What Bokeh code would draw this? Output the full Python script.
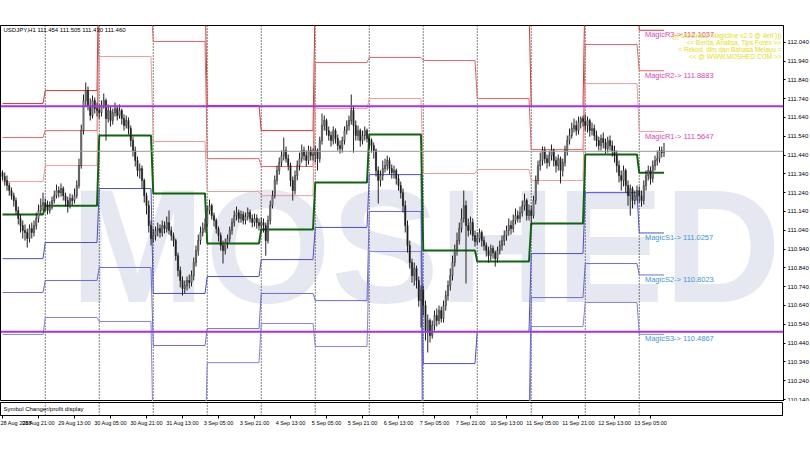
from bokeh.plotting import figure
from bokeh.models import ColumnDataSource, FixedTicker, PrintfTickFormatter, Label, Range1d, Span, Grid
from bokeh.layouts import column
from bokeh.embed import file_html
from bokeh.resources import INLINE

# ---------------- data ----------------
title_text = "USDJPY,H1  111.454 111.505 111.430 111.460"
first_open = 111.347

close = [
    111.326, 111.305, 111.278, 111.251, 111.224, 111.198, 111.145, 111.103, 111.065, 111.039, 111.028, 110.996, 111.049, 111.028, 111.065, 111.103, 111.145, 111.171, 111.187,
    111.171, 111.145, 111.161, 111.198, 111.224, 111.251, 111.240, 111.262, 111.224, 111.198, 111.171, 111.209, 111.198, 111.224, 111.278, 111.384, 111.570, 111.730, 111.783, 111.703, 111.650, 111.730, 111.687, 111.677,
    111.666, 111.703, 111.730, 111.634, 111.677, 111.624, 111.666, 111.687, 111.650, 111.677, 111.634, 111.597, 111.624, 111.581, 111.517, 111.464, 111.411, 111.358, 111.368, 111.305, 111.224, 111.171, 111.065, 110.996,
    111.012, 111.039, 111.049, 111.028, 111.065, 111.049, 111.081, 111.039, 111.012, 110.985, 110.905, 110.826, 110.773, 110.730, 110.746, 110.773, 110.762, 110.799, 110.868, 110.932, 110.985, 111.028, 111.049, 111.071,
    111.145, 111.171, 111.118, 111.092, 111.049, 111.012, 110.959, 110.932, 110.975, 110.996, 111.039, 111.081, 111.118, 111.134, 111.103, 111.124, 111.092, 111.113, 111.134, 111.103, 111.081, 111.103, 111.081, 111.065,
    111.081, 111.065, 110.985, 111.092, 111.171, 111.224, 111.305, 111.358, 111.400, 111.437, 111.464, 111.421, 111.384, 111.305, 111.251, 111.331, 111.384, 111.421, 111.464, 111.437, 111.411, 111.464, 111.437, 111.443,
    111.464, 111.421, 111.517, 111.597, 111.624, 111.570, 111.544, 111.517, 111.570, 111.528, 111.490, 111.475, 111.517, 111.570, 111.597, 111.624, 111.677, 111.597, 111.544, 111.570, 111.517, 111.544, 111.570, 111.528,
    111.517, 111.490, 111.464, 111.358, 111.305, 111.331, 111.368, 111.384, 111.411, 111.368, 111.347, 111.358, 111.315, 111.278, 111.240, 111.171, 111.065, 110.959, 110.868, 110.799, 110.837, 110.773, 110.666, 110.719,
    110.640, 110.507, 110.560, 110.480, 110.534, 110.587, 110.560, 110.613, 110.571, 110.640, 110.693, 110.746, 110.799, 110.868, 110.932, 110.985, 111.049, 111.103, 111.171, 111.065, 111.039, 111.081, 111.012, 110.980,
    110.996, 111.028, 110.985, 110.959, 110.932, 110.905, 110.943, 110.921, 110.889, 110.932, 110.959, 110.985, 111.012, 111.039, 111.065, 111.049, 111.092, 111.118, 111.103, 111.134, 111.171, 111.198, 111.118, 111.145,
    111.118, 111.198, 111.305, 111.384, 111.411, 111.464, 111.421, 111.400, 111.437, 111.464, 111.411, 111.384, 111.421, 111.358, 111.400, 111.464, 111.517, 111.544, 111.581, 111.597, 111.570, 111.613, 111.634, 111.618,
    111.597, 111.624, 111.570, 111.581, 111.544, 111.517, 111.490, 111.528, 111.507, 111.475, 111.517, 111.490, 111.464, 111.437, 111.384, 111.331, 111.305, 111.358, 111.278, 111.224, 111.262, 111.198, 111.224, 111.251,
    111.224, 111.198, 111.278, 111.331, 111.358, 111.315, 111.384, 111.411, 111.421, 111.464, 111.454, 111.460,
]

high = [
    111.358, 111.347, 111.331, 111.294, 111.267, 111.240, 111.214, 111.166, 111.124, 111.092, 111.071, 111.049, 111.071, 111.081, 111.092, 111.134, 111.177, 111.209, 111.240,
    111.209, 111.198, 111.193, 111.219, 111.251, 111.283, 111.273, 111.289, 111.273, 111.240, 111.219, 111.235, 111.230, 111.262, 111.305, 111.421, 111.602, 111.762, 111.826, 111.804, 111.741, 111.757, 111.746, 111.719,
    111.709, 111.730, 111.767, 111.741, 111.709, 111.698, 111.687, 111.719, 111.703, 111.709, 111.687, 111.656, 111.650, 111.640, 111.597, 111.538, 111.485, 111.432, 111.395, 111.384, 111.315, 111.240, 111.198, 111.092,
    111.049, 111.060, 111.081, 111.071, 111.092, 111.087, 111.113, 111.145, 111.060, 111.028, 110.996, 110.921, 110.847, 110.794, 110.773, 110.794, 110.805, 110.826, 110.895, 110.959, 111.017, 111.060, 111.081, 111.103,
    111.171, 111.203, 111.182, 111.134, 111.103, 111.060, 111.028, 110.985, 110.996, 111.017, 111.060, 111.103, 111.145, 111.166, 111.150, 111.145, 111.140, 111.134, 111.161, 111.150, 111.124, 111.129, 111.124, 111.103,
    111.108, 111.103, 111.081, 111.118, 111.198, 111.251, 111.331, 111.384, 111.427, 111.464, 111.533, 111.485, 111.443, 111.400, 111.326, 111.358, 111.411, 111.453, 111.496, 111.485, 111.464, 111.490, 111.485, 111.475,
    111.490, 111.475, 111.538, 111.661, 111.650, 111.634, 111.592, 111.565, 111.592, 111.581, 111.549, 111.517, 111.538, 111.592, 111.624, 111.650, 111.762, 111.698, 111.624, 111.597, 111.581, 111.570, 111.592, 111.581,
    111.533, 111.528, 111.507, 111.475, 111.379, 111.358, 111.411, 111.421, 111.437, 111.427, 111.390, 111.384, 111.368, 111.336, 111.299, 111.262, 111.198, 111.092, 110.985, 110.889, 110.868, 110.852, 110.794, 110.746,
    110.746, 110.666, 110.592, 110.571, 110.560, 110.613, 110.624, 110.640, 110.634, 110.666, 110.719, 110.773, 110.837, 110.905, 110.964, 111.028, 111.081, 111.156, 111.251, 111.198, 111.103, 111.113, 111.103, 111.039,
    111.028, 111.049, 111.039, 111.007, 110.975, 110.953, 110.964, 110.959, 110.932, 110.953, 110.985, 111.012, 111.039, 111.065, 111.103, 111.092, 111.124, 111.156, 111.145, 111.166, 111.198, 111.235, 111.209, 111.177,
    111.171, 111.224, 111.331, 111.411, 111.453, 111.485, 111.485, 111.443, 111.464, 111.496, 111.475, 111.432, 111.443, 111.432, 111.421, 111.490, 111.544, 111.581, 111.613, 111.634, 111.624, 111.645, 111.645, 111.650,
    111.656, 111.645, 111.634, 111.613, 111.602, 111.570, 111.538, 111.549, 111.560, 111.528, 111.538, 111.544, 111.517, 111.490, 111.464, 111.411, 111.358, 111.384, 111.368, 111.305, 111.283, 111.273, 111.251, 111.278,
    111.273, 111.251, 111.305, 111.358, 111.384, 111.379, 111.411, 111.437, 111.464, 111.485, 111.485, 111.505,
]

low = [
    111.305, 111.278, 111.251, 111.224, 111.203, 111.166, 111.124, 111.071, 111.028, 110.996, 110.985, 110.948, 110.975, 110.996, 111.007, 111.044, 111.081, 111.124, 111.145,
    111.140, 111.124, 111.129, 111.150, 111.182, 111.209, 111.214, 111.219, 111.198, 111.166, 111.134, 111.156, 111.171, 111.182, 111.209, 111.262, 111.368, 111.549, 111.698, 111.677, 111.624, 111.634, 111.661, 111.645,
    111.634, 111.645, 111.687, 111.517, 111.613, 111.592, 111.602, 111.645, 111.624, 111.634, 111.602, 111.570, 111.581, 111.549, 111.485, 111.432, 111.379, 111.326, 111.315, 111.262, 111.187, 111.124, 111.028, 110.959,
    110.975, 110.985, 111.007, 111.001, 111.007, 111.023, 111.028, 111.017, 110.985, 110.953, 110.879, 110.794, 110.736, 110.693, 110.703, 110.719, 110.730, 110.741, 110.773, 110.847, 110.905, 110.964, 111.007, 111.028,
    111.060, 111.124, 111.097, 111.060, 111.023, 110.980, 110.932, 110.863, 110.911, 110.943, 110.975, 111.017, 111.060, 111.092, 111.081, 111.081, 111.071, 111.071, 111.092, 111.081, 111.055, 111.060, 111.049, 111.039,
    111.039, 111.028, 110.905, 110.970, 111.071, 111.156, 111.209, 111.283, 111.336, 111.379, 111.411, 111.400, 111.358, 111.273, 111.198, 111.230, 111.305, 111.358, 111.400, 111.411, 111.379, 111.390, 111.411, 111.411,
    111.400, 111.358, 111.400, 111.496, 111.570, 111.544, 111.517, 111.485, 111.496, 111.501, 111.464, 111.448, 111.453, 111.496, 111.549, 111.570, 111.602, 111.453, 111.517, 111.517, 111.485, 111.496, 111.517, 111.507,
    111.475, 111.453, 111.421, 111.326, 111.182, 111.273, 111.305, 111.347, 111.358, 111.336, 111.315, 111.315, 111.283, 111.251, 111.209, 111.134, 111.028, 110.921, 110.837, 110.762, 110.746, 110.730, 110.634, 110.523,
    110.587, 110.454, 110.390, 110.443, 110.464, 110.507, 110.528, 110.539, 110.549, 110.549, 110.613, 110.666, 110.719, 110.773, 110.847, 110.905, 110.964, 111.028, 111.081, 110.757, 111.007, 111.017, 110.985, 110.953,
    110.964, 110.975, 110.953, 110.932, 110.900, 110.868, 110.879, 110.889, 110.847, 110.868, 110.911, 110.932, 110.959, 110.985, 111.012, 111.017, 111.028, 111.071, 111.081, 111.081, 111.113, 111.145, 111.092, 111.092,
    111.065, 111.103, 111.177, 111.283, 111.358, 111.384, 111.395, 111.368, 111.379, 111.411, 111.379, 111.347, 111.358, 111.289, 111.326, 111.379, 111.437, 111.496, 111.528, 111.560, 111.544, 111.549, 111.581, 111.592,
    111.570, 111.560, 111.538, 111.544, 111.517, 111.485, 111.464, 111.464, 111.475, 111.448, 111.453, 111.464, 111.432, 111.400, 111.347, 111.294, 111.251, 111.273, 111.240, 111.171, 111.118, 111.156, 111.177, 111.198,
    111.187, 111.166, 111.177, 111.251, 111.305, 111.283, 111.294, 111.358, 111.384, 111.400, 111.427, 111.430,
]

# first bar index of each trading day (28 Aug ... 13 Sep)
day_start = [0, 19, 43, 67, 91, 115, 139, 163, 187, 211, 235, 259, 283]
last_bar = 294

R3 = [111.714, 111.783, 112.666, 112.321, 111.703, 111.570, 112.310, 112.145, 112.353, 112.220, 111.698, 112.401, 112.1037]
R2 = [111.533, 111.570, 112.246, 112.044, 111.421, 111.379, 111.932, 111.959, 111.943, 111.741, 111.469, 112.028, 111.8883]
R1 = [111.299, 111.384, 111.964, 111.512, 111.246, 111.224, 111.687, 111.741, 111.342, 111.363, 111.305, 111.820, 111.5647]
PP = [111.124, 111.171, 111.544, 111.236, 110.970, 111.044, 111.294, 111.549, 110.932, 110.874, 111.076, 111.443, 111.3453]
S1 = [110.889, 110.975, 111.262, 110.704, 110.794, 110.884, 111.055, 111.336, 110.331, 110.502, 110.916, 111.240, 111.0257]
S2 = [110.709, 110.773, 110.842, 110.427, 110.517, 110.704, 110.666, 111.140, 109.922, 110.012, 110.682, 110.863, 110.8023]
S3 = [110.486, 110.576, 110.555, 109.895, 110.336, 110.544, 110.422, 110.927, 109.321, 109.635, 110.528, 110.656, 110.4867]

marked_levels = [111.700, 110.500]
bid_price = 111.460

price_ticks = [110.14, 110.24, 110.34, 110.44, 110.54, 110.64, 110.74, 110.84, 110.94, 111.04,
               111.14, 111.24, 111.34, 111.44, 111.54, 111.64, 111.74, 111.84, 111.94, 112.04]
time_ticks = [0, 16, 32, 48, 64, 80, 96, 112, 128, 144, 160, 176, 192, 208, 224, 240, 256, 272, 288]
time_labels = ["28 Aug 2018", "28 Aug 21:00", "29 Aug 13:00", "30 Aug 05:00", "30 Aug 21:00",
               "31 Aug 13:00", "3 Sep 05:00", "3 Sep 21:00", "4 Sep 13:00", "5 Sep 05:00",
               "5 Sep 21:00", "6 Sep 13:00", "7 Sep 05:00", "7 Sep 21:00", "10 Sep 13:00",
               "11 Sep 05:00", "11 Sep 21:00", "12 Sep 13:00", "13 Sep 05:00"]

info_lines = ["((( MOSHED Magicline v2.0 @ 4elf )))",
              "<< Berita, Analisa, Tips Forex >>",
              "= Rekod, dlm dan Bahasa Melayu =",
              "<< @ WWW.MOSHED.COM >>"]
magic_names = ["MagicR3", "MagicR2", "MagicR1", "MagicS1", "MagicS2", "MagicS3"]
watermark_text = "MOSHED"

# ---------------- styling ----------------
FONT = "Liberation Sans"
FW = 783
X0 = -0.89
X1 = X0 + FW / 2.25
Y0, Y1 = 110.1294, 112.129

n = len(close)
idx = list(range(n))
opens = [first_open] + close[:-1]
body_top = [max(o, c) for o, c in zip(opens, close)]
body_bot = [min(o, c) for o, c in zip(opens, close)]
body_col = ["#9a9a9a" if c >= o else "#1c1c1c" for o, c in zip(opens, close)]
src = ColumnDataSource(dict(x=idx, high=high, low=low, top=body_top, bottom=body_bot, color=body_col))


def strip_grids(fig):
    fig.center = [r for r in fig.center if not isinstance(r, Grid)]


def day_separators(fig):
    for d in day_start[1:]:
        fig.add_layout(Span(location=d, dimension="height", line_color="#000000",
                            line_dash="1 2", line_width=1, level="underlay"))


p = figure(frame_width=FW, frame_height=376, x_range=Range1d(X0, X1), y_range=Range1d(Y0, Y1),
           output_backend="svg", toolbar_location=None, y_axis_location="right", x_axis_location=None,
           min_border_left=0, min_border_right=0, min_border_top=25, min_border_bottom=0)
strip_grids(p)
p.background_fill_color = "white"
p.border_fill_color = "white"
p.outline_line_color = "black"

# watermark (drawn under everything else)
p.add_layout(Label(x=188, y=110.96, text=watermark_text, text_font=FONT, text_font_style="bold",
                   text_font_size="162px", text_color="#e5e8f0", text_align="center",
                   text_baseline="middle", level="underlay"))
day_separators(p)

ax = p.yaxis[0]
ax.ticker = FixedTicker(ticks=price_ticks)
ax.formatter = PrintfTickFormatter(format="%.3f")
ax.major_label_text_font = FONT
ax.major_label_text_font_size = "6px"
ax.major_label_text_color = "#000000"
ax.major_tick_out = 2
ax.major_tick_in = 0
ax.minor_tick_out = 0
ax.minor_tick_in = 0
ax.major_label_standoff = 2
ax.axis_line_color = "#000000"


# pivot level step lines
def level_xy(vals):
    xs, ys = [], []
    for d, v in enumerate(vals):
        s0 = day_start[d]
        e0 = day_start[d + 1] - 1 if d + 1 < len(day_start) else last_bar
        xs += [s0, e0]
        ys += [v, v]
    return xs, ys


for vals, col in [(S3, "#8686e4"), (S2, "#6c6cdc"), (S1, "#4d4dd2"),
                  (R3, "#de3535"), (R2, "#ea6464"), (R1, "#f29a9a")]:
    xs, ys = level_xy(vals)
    p.line(xs, ys, line_color=col, line_width=1)
xs, ys = level_xy(PP)
p.line(xs, ys, line_color="#0f650f", line_width=2)

# candles
p.segment(x0="x", y0="low", x1="x", y1="high", source=src, line_color="#222222", line_width=1)
p.vbar(x="x", top="top", bottom="bottom", width=0.55, fill_color="color", line_color="#222222",
       line_width=0.5, source=src)

# horizontal marks
for v in marked_levels:
    p.add_layout(Span(location=v, dimension="width", line_color="#a433e6", line_width=2))
p.add_layout(Span(location=bid_price, dimension="width", line_color="#9a9a9a", line_width=1))

# magic labels for the current day
mvals = [R3[-1], R2[-1], R1[-1], S1[-1], S2[-1], S3[-1]]
mcols = ["#e044b4"] * 3 + ["#3a98d6"] * 3
for nm, v, c in zip(magic_names, mvals, mcols):
    p.add_layout(Label(x=day_start[-1] + 2.5, y=v, text=f"{nm}-> {v:.4f}", text_color=c,
                       text_font=FONT, text_font_size="7.5px", text_baseline="top", text_align="left"))

# title
p.add_layout(Label(x=X0, y=112.105, x_offset=3, text=title_text, text_font=FONT,
                   text_font_size="6px", text_color="#000000", text_baseline="middle"))

# yellow info block
for k, line in enumerate(info_lines):
    p.add_layout(Label(x=X1, y=112.076 - 0.0375 * k, x_offset=-2, text=line, text_font=FONT,
                       text_font_size="6.5px", text_color="#e8dc10", text_align="right",
                       text_baseline="middle"))

# price boxes in the axis area
for v, bg in [(marked_levels[0], "#a433e6"), (bid_price, "#000000"), (marked_levels[1], "#a433e6")]:
    p.add_layout(Label(x=X1, y=v, x_offset=1, text=f"{v:.3f}", text_font=FONT, text_font_size="6px",
                       text_color="white", background_fill_color=bg, text_align="left",
                       text_baseline="middle"))

# sub window with time axis
s = figure(frame_width=FW, frame_height=13, x_range=p.x_range, y_range=Range1d(0, 1),
           output_backend="svg", toolbar_location=None, y_axis_location=None,
           min_border_left=0, min_border_right=0, min_border_top=1, min_border_bottom=0)
strip_grids(s)
s.background_fill_color = "white"
s.border_fill_color = "white"
s.outline_line_color = "black"
day_separators(s)
xa = s.xaxis[0]
xa.ticker = FixedTicker(ticks=time_ticks)
xa.major_label_overrides = {t: lab for t, lab in zip(time_ticks, time_labels)}
xa.major_label_text_font = FONT
xa.major_label_text_font_size = "5.5px"
xa.major_label_text_color = "#000000"
xa.major_label_text_align = "left"
xa.major_tick_out = 3
xa.major_tick_in = 0
xa.minor_tick_out = 0
xa.minor_tick_in = 0
xa.major_label_standoff = 1
xa.axis_line_color = "#000000"
s.add_layout(Label(x=X0, y=0.5, x_offset=3, text="Symbol Changer/profit display", text_font=FONT,
                   text_font_size="6px", text_color="#000000", text_baseline="middle"))

layout = column(p, s)
open("out.html", "w").write(file_html(layout, INLINE))
